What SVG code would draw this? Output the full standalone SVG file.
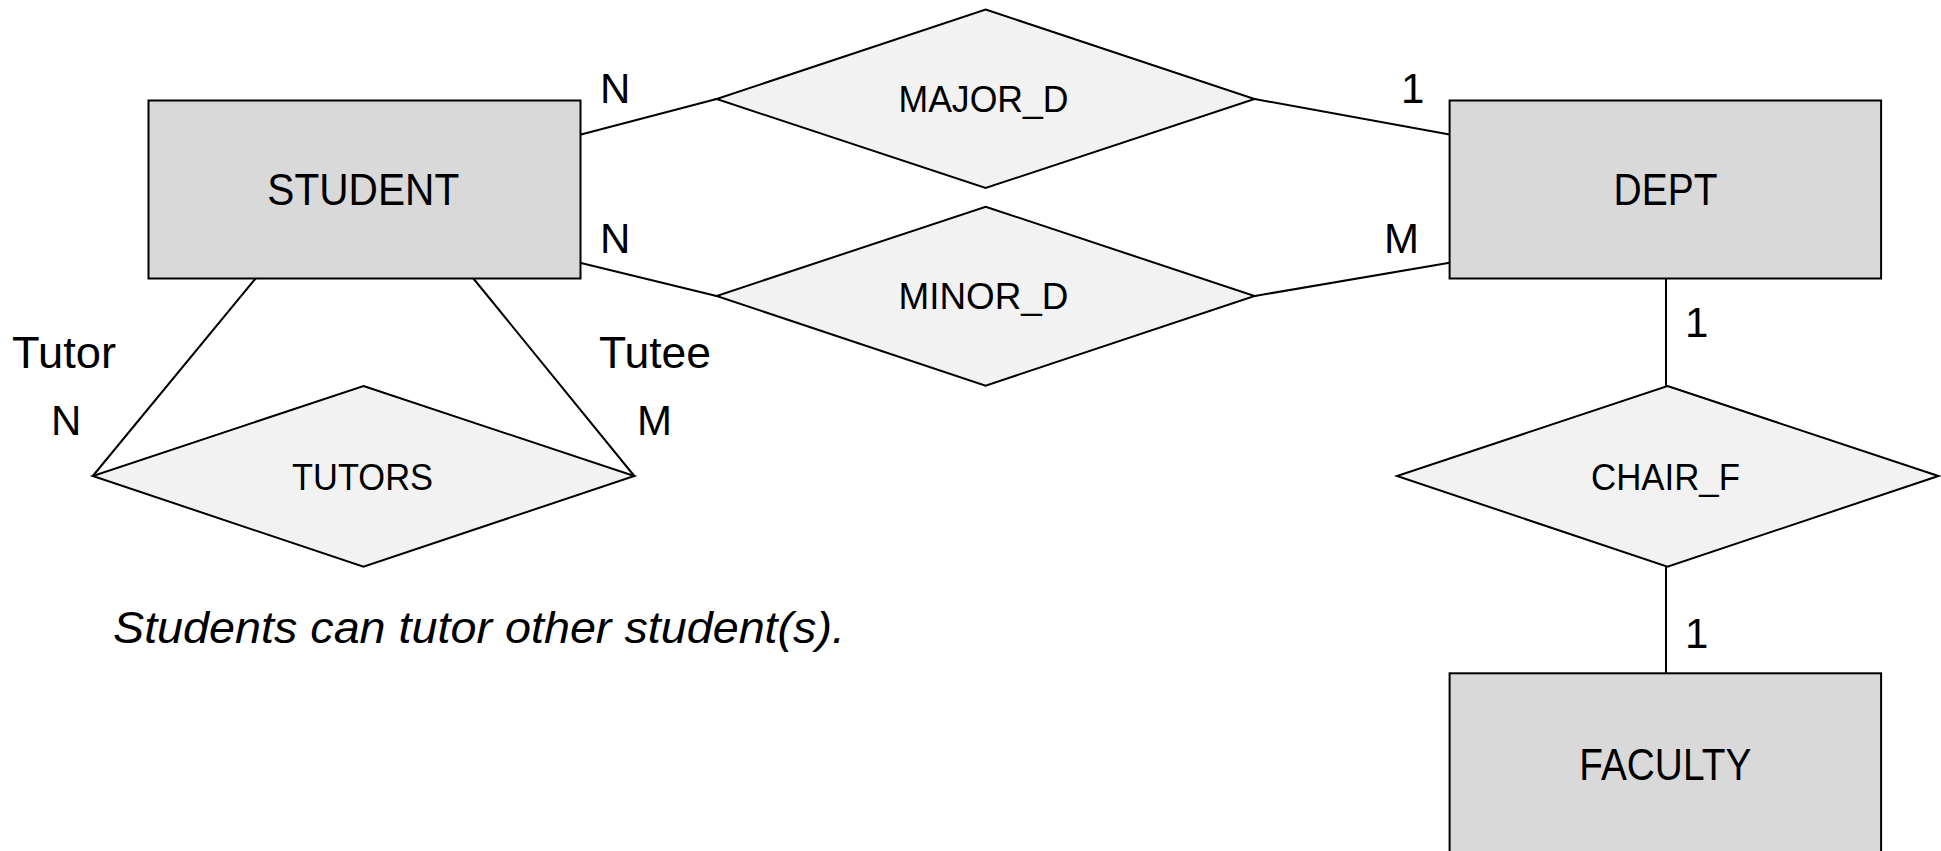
<svg xmlns="http://www.w3.org/2000/svg" width="1941" height="851" viewBox="0 0 1941 851">
<style>
.ent{fill:#D9D9D9;stroke:#000;stroke-width:2}
.rel{fill:#F2F2F2;stroke:#000;stroke-width:2}
.ln{stroke:#000;stroke-width:2;fill:none}
text{font-family:"Liberation Sans",Arial,sans-serif;fill:#000}
.lbl{font-size:44px;text-anchor:middle}
.rl{font-size:37px;text-anchor:middle}
.card{font-size:42px}
.role{font-size:44px}
.note{font-size:44px;font-style:italic}
</style>
<rect width="1941" height="851" fill="#fff"/>
<g id="connectors">
<line class="ln" x1="581" y1="134.5" x2="716.6" y2="99"/>
<line class="ln" x1="1254.6" y1="99" x2="1449.6" y2="134.5"/>
<line class="ln" x1="581" y1="263" x2="716.6" y2="296"/>
<line class="ln" x1="1254.6" y1="296" x2="1449.6" y2="262.7"/>
<line class="ln" x1="1666" y1="278.5" x2="1666" y2="386"/>
<line class="ln" x1="1666" y1="566" x2="1666" y2="673.3"/>
<line class="ln" x1="255.6" y1="278.5" x2="92.8" y2="476"/>
<line class="ln" x1="473.4" y1="278.5" x2="634.3" y2="476"/>
</g>
<g id="student">
<rect class="ent" x="148.5" y="100.5" width="432" height="178"/>
<text class="lbl" x="363.3" y="205" textLength="192" lengthAdjust="spacingAndGlyphs">STUDENT</text>
</g>
<g id="dept">
<rect class="ent" x="1449.6" y="100.5" width="431.5" height="178"/>
<text class="lbl" x="1665.5" y="204.5" textLength="104" lengthAdjust="spacingAndGlyphs">DEPT</text>
</g>
<g id="faculty">
<rect class="ent" x="1449.6" y="673.3" width="431.5" height="190"/>
<text class="lbl" x="1665.3" y="780" textLength="172" lengthAdjust="spacingAndGlyphs">FACULTY</text>
</g>
<g id="major_d">
<polygon class="rel" points="985.6,9.5 1254.6,99 985.6,188 716.6,99"/>
<text class="rl" x="983.5" y="111.7" textLength="170" lengthAdjust="spacingAndGlyphs">MAJOR_D</text>
</g>
<g id="minor_d">
<polygon class="rel" points="985.6,206.7 1254.6,296 985.6,385.7 716.6,296"/>
<text class="rl" x="983.5" y="308.5" textLength="170" lengthAdjust="spacingAndGlyphs">MINOR_D</text>
</g>
<g id="tutors">
<polygon class="rel" points="363.5,386 634.3,476 363.5,566.7 92.8,476"/>
<text class="rl" x="362.5" y="489.5" textLength="141" lengthAdjust="spacingAndGlyphs">TUTORS</text>
</g>
<g id="chair_f">
<polygon class="rel" points="1667.5,386 1938.4,476 1667.5,566.7 1397,476"/>
<text class="rl" x="1665.5" y="489.5" textLength="149" lengthAdjust="spacingAndGlyphs">CHAIR_F</text>
</g>
<g id="labels">
<text class="card" x="600" y="103.3">N</text>
<text class="card" x="600" y="253.3">N</text>
<text class="card" x="1401" y="103.3">1</text>
<text class="card" x="1384" y="252.7">M</text>
<text class="card" x="1685" y="337.3">1</text>
<text class="card" x="1685" y="647.7">1</text>
<text class="role" x="12" y="367.7" textLength="104" lengthAdjust="spacingAndGlyphs">Tutor</text>
<text class="role" x="599" y="367.7" textLength="112" lengthAdjust="spacingAndGlyphs">Tutee</text>
<text class="card" x="51" y="435">N</text>
<text class="card" x="637" y="435">M</text>
<text class="note" x="113" y="643.3" textLength="732" lengthAdjust="spacingAndGlyphs">Students can tutor other student(s).</text>
</g>
</svg>
